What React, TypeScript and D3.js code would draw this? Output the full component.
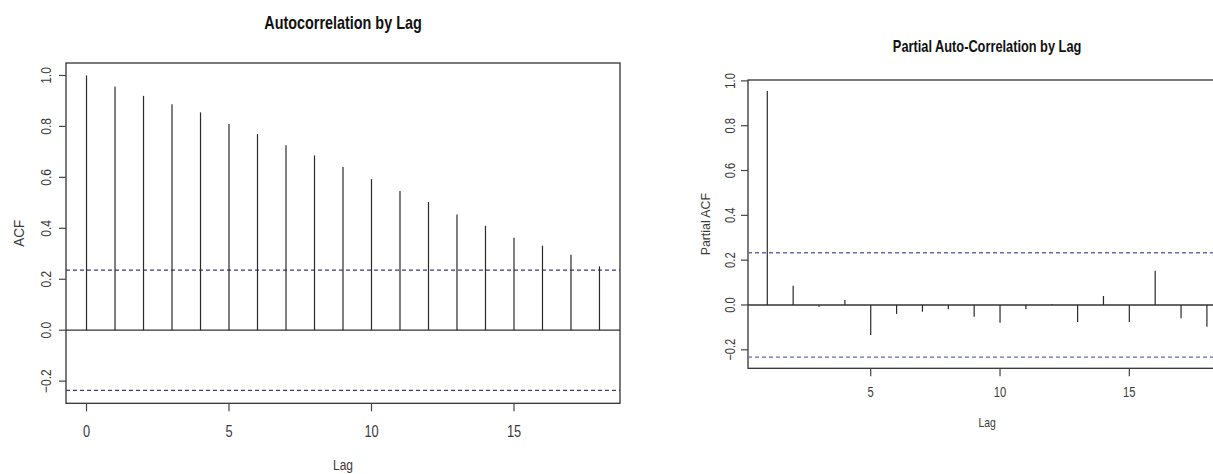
import React, { useEffect, useRef } from "react";
import * as d3 from "d3";

// ACF values, lag 0..18
const acfLags = d3.range(0, 19);
const acfValues = [
  1.0, 0.957, 0.92, 0.887, 0.855, 0.81, 0.77, 0.726, 0.686, 0.641, 0.593,
  0.546, 0.503, 0.454, 0.41, 0.363, 0.332, 0.296, 0.251,
];
const acfClim = 0.236;
const acfXTicks = [0, 5, 10, 15];
const acfYTicks = [-0.2, 0.0, 0.2, 0.4, 0.6, 0.8, 1.0];

// Partial ACF values, lag 1..18
const pacfLags = d3.range(1, 19);
const pacfValues = [
  0.955, 0.086, -0.008, 0.022, -0.134, -0.04, -0.03, -0.019, -0.052, -0.079,
  -0.019, 0.003, -0.076, 0.04, -0.076, 0.153, -0.059, -0.097,
];
const pacfClim = 0.233;
const pacfXTicks = [5, 10, 15];
const pacfYTicks = [-0.2, 0.0, 0.2, 0.4, 0.6, 0.8, 1.0];

const FONT = "'Liberation Sans', Arial, sans-serif";
const SQUEEZE = 0.8;

const App = () => {
  const chartRef = useRef(null);

  useEffect(() => {
    const width = 1213;
    const height = 474;

    d3.select(chartRef.current).selectAll("*").remove();

    const svg = d3
      .select(chartRef.current)
      .append("svg")
      .attr("width", width)
      .attr("height", height)
      .style("position", "absolute")
      .style("left", 0)
      .style("top", 0)
      .style("background", "#fff");

    // horizontal text, squeezed like the narrow font of the picture
    const hText = (g, x, y, txt, size, opts = {}) =>
      g
        .append("text")
        .attr("transform", `translate(${x},${y}) scale(${opts.sx ?? SQUEEZE},1)`)
        .attr("text-anchor", "middle")
        .attr("font-family", FONT)
        .attr("font-size", size)
        .attr("font-weight", opts.bold ? "bold" : "normal")
        .attr("fill", opts.fill ?? "#3a3a3a")
        .text(txt);

    // rotated text, reading bottom to top
    const vText = (g, x, y, txt, size, sx = SQUEEZE) =>
      g
        .append("text")
        .attr("transform", `translate(${x},${y}) rotate(-90) scale(${sx},1)`)
        .attr("text-anchor", "middle")
        .attr("font-family", FONT)
        .attr("font-size", size)
        .attr("fill", "#3a3a3a")
        .text(txt);

    const drawPanel = (cfg) => {
      const g = svg.append("g");
      const x = d3.scaleLinear().domain(cfg.xDomain).range(cfg.xRange);
      const y = d3.scaleLinear().domain(cfg.yDomain).range(cfg.yRange);
      const [x0, x1] = cfg.xRange;
      const [yb, yt] = cfg.yRange;

      // plot box
      g.append("rect")
        .attr("x", x0)
        .attr("y", yt)
        .attr("width", x1 - x0)
        .attr("height", yb - yt)
        .attr("fill", "none")
        .attr("stroke", "#333")
        .attr("stroke-width", 1.3);

      // zero line
      g.append("line")
        .attr("x1", x0)
        .attr("x2", x1)
        .attr("y1", y(0))
        .attr("y2", y(0))
        .attr("stroke", "#333")
        .attr("stroke-width", 1.3);

      // confidence limits
      [cfg.clim, -cfg.clim].forEach((c) => {
        g.append("line")
          .attr("x1", x0)
          .attr("x2", x1)
          .attr("y1", y(c))
          .attr("y2", y(c))
          .attr("stroke", cfg.dashColor)
          .attr("stroke-width", 1.3)
          .attr("stroke-dasharray", "4,3");
      });

      // stems
      g.selectAll("line.stem")
        .data(cfg.lags.map((l, i) => ({ lag: l, v: cfg.values[i] })))
        .join("line")
        .attr("class", "stem")
        .attr("x1", (d) => x(d.lag))
        .attr("x2", (d) => x(d.lag))
        .attr("y1", y(0))
        .attr("y2", (d) => y(d.v))
        .attr("stroke", "#2a2a2a")
        .attr("stroke-width", 1.2);

      // x axis ticks
      cfg.xTicks.forEach((t) => {
        g.append("line")
          .attr("x1", x(t))
          .attr("x2", x(t))
          .attr("y1", yb)
          .attr("y2", yb + 8)
          .attr("stroke", "#444")
          .attr("stroke-width", 1.2);
        hText(g, x(t), cfg.xLabelY, t, cfg.xTickSize);
      });

      // y axis ticks
      cfg.yTicks.forEach((t) => {
        g.append("line")
          .attr("x1", x0 - 7)
          .attr("x2", x0)
          .attr("y1", y(t))
          .attr("y2", y(t))
          .attr("stroke", "#444")
          .attr("stroke-width", 1.2);
        vText(g, cfg.yLabelX, y(t), d3.format(".1f")(t), cfg.yTickSize);
      });

      // labels and title
      const cx = (x0 + x1) / 2;
      hText(g, cx, cfg.titleY, cfg.title, cfg.titleSize, { bold: true, fill: "#111" });
      hText(g, cx, cfg.xTitleY, "Lag", cfg.xTitleSize);
      vText(g, cfg.yTitleX, (yt + yb) / 2, cfg.yTitle, cfg.yTitleSize, cfg.yTitleSx);
    };

    drawPanel({
      lags: acfLags,
      values: acfValues,
      clim: acfClim,
      xDomain: [-0.72, 18.72],
      xRange: [66, 620],
      yDomain: [-0.287, 1.049],
      yRange: [403.3, 63],
      xTicks: acfXTicks,
      yTicks: acfYTicks,
      dashColor: "#3c3c7a",
      title: "Autocorrelation by Lag",
      titleY: 29,
      titleSize: 18,
      xLabelY: 437,
      xTickSize: 16,
      yLabelX: 50.5,
      yTickSize: 15,
      xTitleY: 470,
      xTitleSize: 15,
      yTitle: "ACF",
      yTitleX: 23.5,
      yTitleSize: 15,
      yTitleSx: 0.9,
    });

    drawPanel({
      lags: pacfLags,
      values: pacfValues,
      clim: pacfClim,
      xDomain: [0.254, 18.746],
      xRange: [748, 1226.2],
      yDomain: [-0.2826, 1.004],
      yRange: [368.3, 80],
      xTicks: pacfXTicks,
      yTicks: pacfYTicks,
      dashColor: "#6a6ab4",
      title: "Partial Auto-Correlation by Lag",
      titleY: 51.7,
      titleSize: 16,
      xLabelY: 396.5,
      xTickSize: 14,
      yLabelX: 735,
      yTickSize: 14,
      xTitleY: 427,
      xTitleSize: 13,
      yTitle: "Partial ACF",
      yTitleX: 710,
      yTitleSize: 13,
      yTitleSx: 0.95,
    });
  }, []);

  return <div ref={chartRef}></div>;
};

export default App;
